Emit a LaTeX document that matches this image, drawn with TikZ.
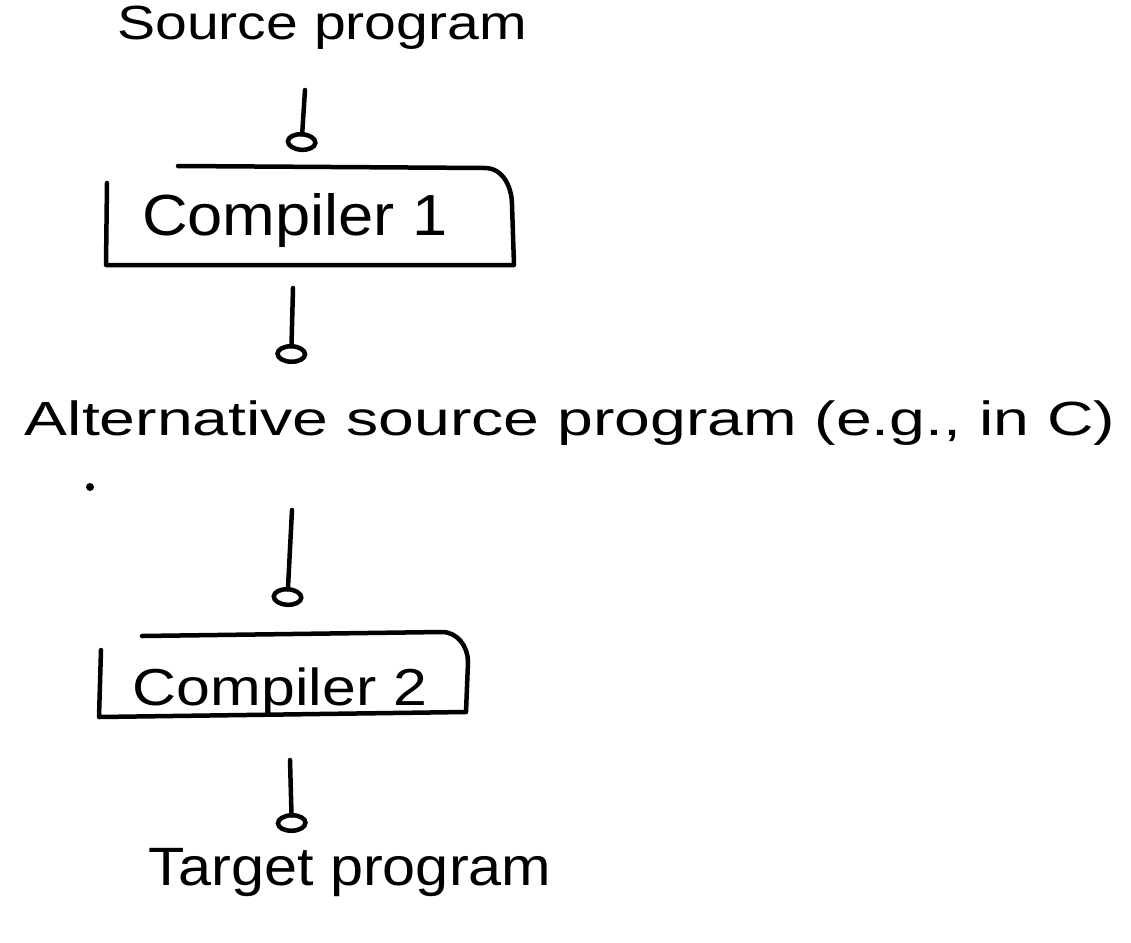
\documentclass[tikz,border=0pt]{standalone}
\usepackage{fontspec}
\setmainfont{Liberation Sans}
\usetikzlibrary{arrows.meta}
\newcommand{\handtext}[3]{\scalebox{#2}[1]{\fontsize{#1}{#1}\selectfont #3}}
\tikzset{
  label text/.style={inner sep=0pt, anchor=base},
  boxline/.style={line width=4.5pt, line cap=round, line join=round},
  flow/.style={line width=4.5pt, line cap=round,
    -{Circle[open, length=20pt, width=32pt, line width=4.5pt]}},
}
\begin{document}
\begin{tikzpicture}[x=1pt, y=-1pt]
  \useasboundingbox (0,0) rectangle (1131,942);

  % texts
  \node[label text] (src) at (322,40) {\handtext{48}{1.19}{Source program}};
  \node[label text] (c1) at (295,235) {\handtext{58}{1.09}{Compiler 1}};
  \node[label text] (alt) at (570,435) {\handtext{48}{1.34}{Alternative source program (e.g., in C)}};
  \node[label text] (c2) at (280,705) {\handtext{52}{1.17}{Compiler 2}};
  \node[label text] (tgt) at (350,885) {\handtext{54}{1.1}{Target program}};

  % compiler boxes, top right corner rounded
  \draw[boxline] (107,183) -- (106,265) -- (514,265) -- (512,205)
    to[out=90, in=0] (485,168) -- (178,166);
  \draw[boxline] (101,650) -- (99,717) -- (466,712) -- (468,662)
    to[out=90, in=0] (442,632) -- (142,636);

  % stray dot
  \fill (90,487) circle (4pt);

  % arrows between stages
  \coordinate (a1s) at (305,90);  \coordinate (a1e) at (301,152);
  \coordinate (a2s) at (293,288); \coordinate (a2e) at (291,364);
  \coordinate (a3s) at (292,510); \coordinate (a3e) at (287,607);
  \coordinate (a4s) at (290,760); \coordinate (a4e) at (292,833);
  \draw[flow] (a1s) -- (a1e);
  \draw[flow] (a2s) -- (a2e);
  \draw[flow] (a3s) -- (a3e);
  \draw[flow] (a4s) -- (a4e);
\end{tikzpicture}
\end{document}
